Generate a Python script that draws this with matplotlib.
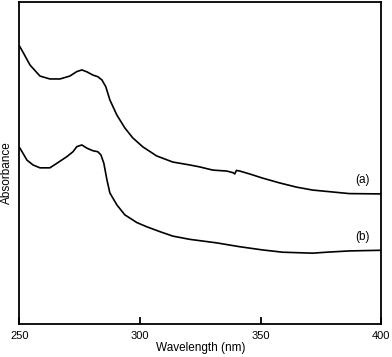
import matplotlib
matplotlib.use("Agg")
import matplotlib.pyplot as plt

plt.rcParams['font.family'] = ['Liberation Sans', 'DejaVu Sans']

wl_a = [250.2, 254.4, 258.5, 262.6, 266.8, 270.9, 273.8, 275.9, 278.0, 280.5, 282.5,
        284.2, 285.8, 287.5, 290.4, 293.7, 297.0, 301.2, 306.9, 313.6, 320.6, 324.7,
        330.2, 336.0, 338.6, 339.3, 340.0, 341.4, 345.5, 350.9, 358.0, 365.0, 371.6,
        379.9, 386.9, 400.0]
abs_a = [0.861, 0.804, 0.770, 0.761, 0.761, 0.770, 0.784, 0.789, 0.783, 0.773, 0.768,
         0.758, 0.737, 0.696, 0.649, 0.609, 0.578, 0.550, 0.522, 0.503, 0.494, 0.488,
         0.478, 0.475, 0.470, 0.466, 0.477, 0.475, 0.466, 0.453, 0.438, 0.425, 0.416,
         0.410, 0.405, 0.404]

wl_b = [250.2, 253.1, 255.6, 258.5, 262.6, 265.5, 269.7, 272.2, 273.8, 275.9, 278.0,
        280.5, 282.5, 283.8, 285.0, 286.3, 287.5, 290.4, 293.7, 295.8, 298.7, 302.8,
        308.2, 313.6, 320.6, 331.8, 341.4, 350.9, 359.2, 371.6, 377.4, 386.9, 400.0]
abs_b = [0.546, 0.509, 0.494, 0.485, 0.485, 0.499, 0.520, 0.535, 0.551, 0.556, 0.546,
         0.538, 0.535, 0.525, 0.499, 0.447, 0.407, 0.370, 0.339, 0.329, 0.315, 0.302,
         0.287, 0.273, 0.263, 0.252, 0.240, 0.230, 0.223, 0.220, 0.223, 0.227, 0.229]

x_ticks = [250, 300, 350, 400]
labels = ["(a)", "(b)"]

fig = plt.figure(figsize=(3.92, 3.57), dpi=100)
ax = fig.add_axes([0.0497, 0.0924, 0.9223, 0.902])
ax.plot(wl_a, abs_a, color='black', lw=1.2)
ax.plot(wl_b, abs_b, color='black', lw=1.2)
ax.set_xlim(250, 400)
ax.set_ylim(0, 1)
ax.set_xticks(x_ticks)
ax.set_yticks([])
ax.tick_params(axis='x', direction='in', length=5, width=1.3, labelsize=8, pad=5)
for s in ax.spines.values():
    s.set_linewidth(1.3)
ax.text(392.3, 0.447, labels[0], ha='center', va='center', fontsize=8.5)
ax.text(392.3, 0.270, labels[1], ha='center', va='center', fontsize=8.5)
ax.set_xlabel("Wavelength (nm)", fontsize=8.5, labelpad=1)
ax.set_ylabel("Absorbance", fontsize=8.5)
ax.yaxis.set_label_coords(-0.017, 0.47)
fig.savefig("out.png", dpi=100)
